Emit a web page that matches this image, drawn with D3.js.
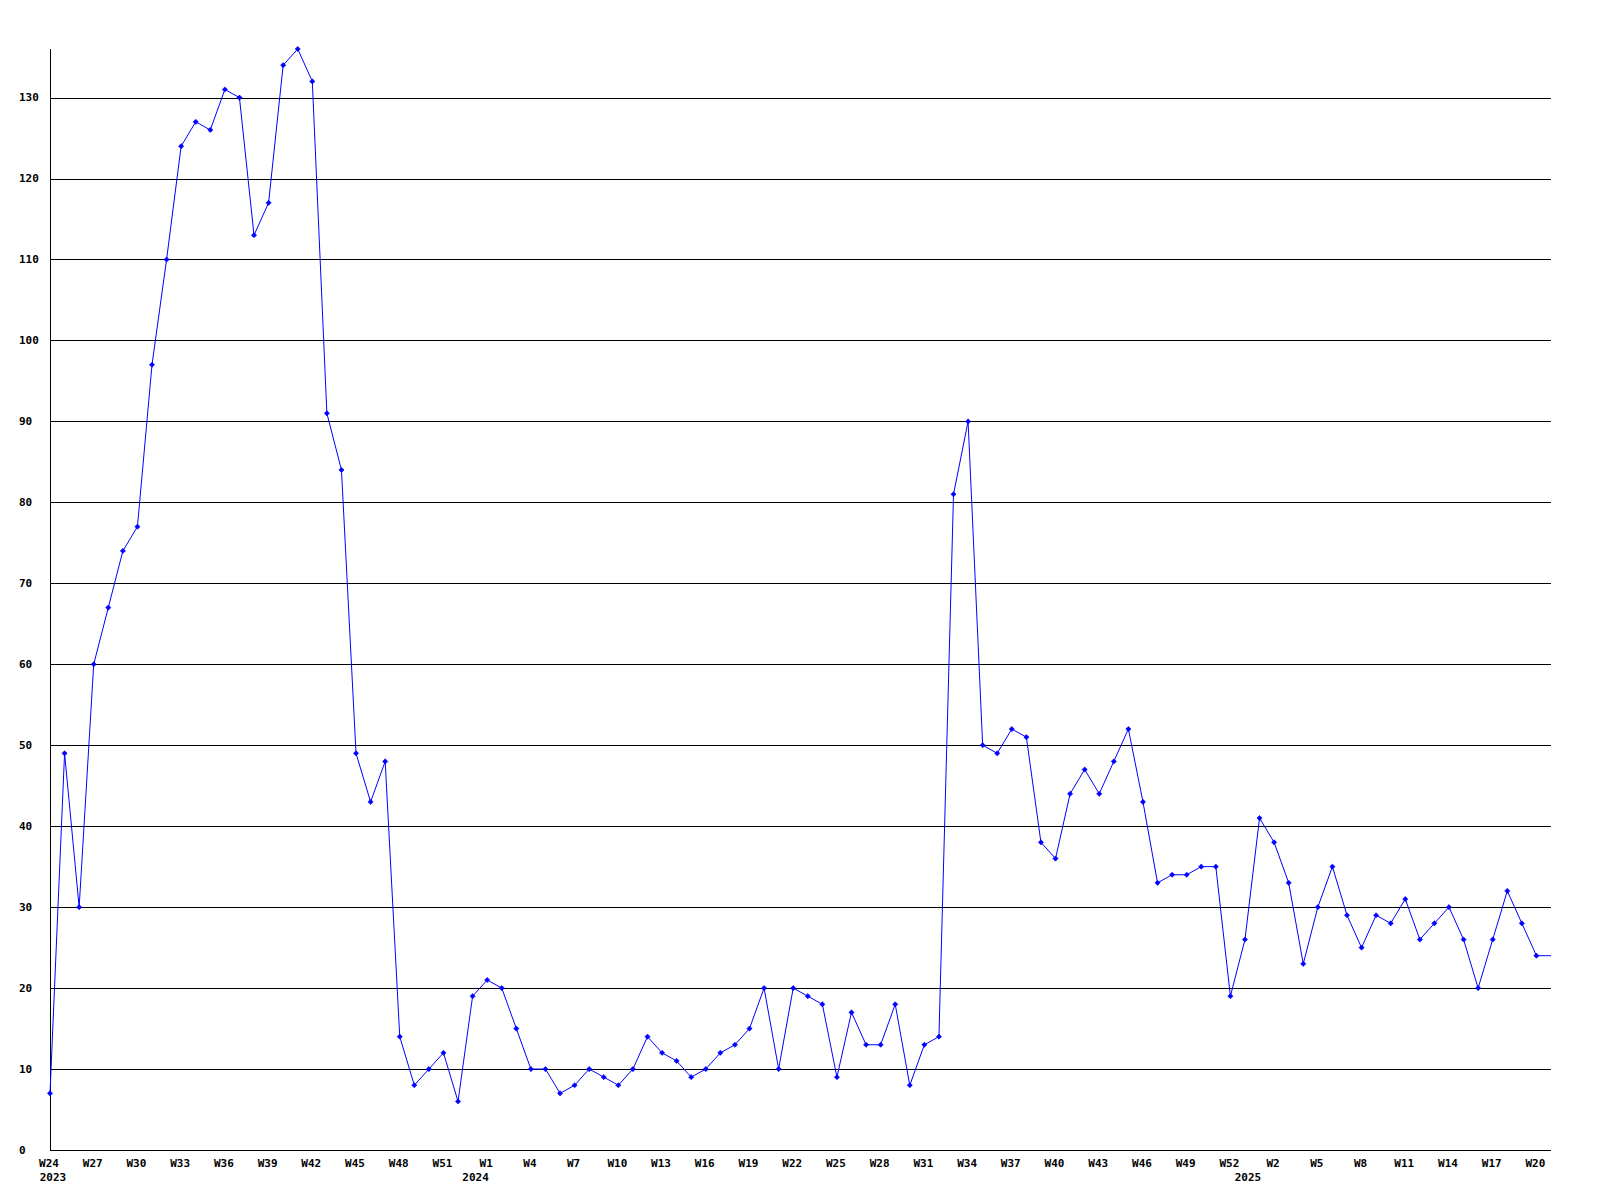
<!DOCTYPE html>
<html>
<head>
<meta charset="utf-8">
<script src="https://cdn.jsdelivr.net/npm/d3@7"></script>
<style>
  html, body { margin: 0; padding: 0; background: #ffffff; }
  svg { display: block; }
  text { font-family: "DejaVu Sans Mono", "Liberation Mono", monospace; font-weight: bold; fill: #000; }
</style>
</head>
<body>
<script>
// Weekly values, 2023 W24 onward (one per week)
const values = [
  7, 49, 30, 60, 67, 74, 77, 97, 110, 124,
  127, 126, 131, 130, 113, 117, 134, 136, 132, 91,
  84, 49, 43, 48, 14, 8, 10, 12, 6, 19,
  21, 20, 15, 10, 10, 7, 8, 10, 9, 8,
  10, 14, 12, 11, 9, 10, 12, 13, 15, 20,
  10, 20, 19, 18, 9, 17, 13, 13, 18, 8,
  13, 14, 81, 90, 50, 49, 52, 51, 38, 36,
  44, 47, 44, 48, 52, 43, 33, 34, 34, 35,
  35, 19, 26, 41, 38, 33, 23, 30, 35, 29,
  25, 29, 28, 31, 26, 28, 30, 26, 20, 26,
  32, 28, 24, 24
];
// Week tick labels, one every 3 weeks starting at the first point
const weekLabels = ["W24","W27","W30","W33","W36","W39","W42","W45","W48","W51",
  "W1","W4","W7","W10","W13","W16","W19","W22","W25","W28","W31","W34","W37",
  "W40","W43","W46","W49","W52","W2","W5","W8","W11","W14","W17","W20"];
const labelStep = 3;
// Year labels and the week index where each year starts
const yearLabels = ["2023", "2024", "2025"];
const yearIndex = [0, 29, 82];
// Y axis ticks
const yTicks = [0, 10, 20, 30, 40, 50, 60, 70, 80, 90, 100, 110, 120, 130];
const yMax = 136;

(function () {
const W = 1600, H = 1200;
const pLeft = 50, pRight = 1551, pTop = 49, pBottom = 1150;

const svg = d3.select("body").append("svg").attr("width", W).attr("height", H);

const x = d3.scaleLinear().domain([0, values.length - 1]).range([pLeft, pRight]);
const y = d3.scaleLinear().domain([0, yMax]).range([pBottom, pTop]);

// grid lines
svg.append("g").selectAll("line").data(yTicks.filter(d => d > 0)).join("line")
  .attr("x1", pLeft).attr("x2", pRight)
  .attr("y1", d => Math.round(y(d)) + 0.5).attr("y2", d => Math.round(y(d)) + 0.5)
  .attr("stroke", "#000").attr("stroke-width", 1).attr("shape-rendering", "crispEdges");

// axes lines
svg.append("line").attr("x1", pLeft + 0.5).attr("x2", pLeft + 0.5).attr("y1", pTop).attr("y2", pBottom + 0.5)
  .attr("stroke", "#000").attr("shape-rendering", "crispEdges");
svg.append("line").attr("x1", pLeft).attr("x2", pRight).attr("y1", pBottom + 0.5).attr("y2", pBottom + 0.5)
  .attr("stroke", "#000").attr("shape-rendering", "crispEdges");

// y labels
svg.append("g").selectAll("text").data(yTicks).join("text")
  .attr("x", 19).attr("y", d => y(d)).attr("dy", "0.35em")
  .attr("font-size", 11).attr("text-anchor", "start")
  .text(d => d);

// x week labels
svg.append("g").selectAll("text").data(weekLabels).join("text")
  .attr("x", (d, i) => x(i * labelStep) - 1).attr("y", 1163).attr("dy", "0.35em")
  .attr("font-size", 11).attr("text-anchor", "middle")
  .text(d => d);

// year labels
svg.append("g").selectAll("text").data(yearLabels).join("text")
  .attr("x", (d, i) => x(yearIndex[i]) + 3).attr("y", 1177).attr("dy", "0.35em")
  .attr("font-size", 11).attr("text-anchor", "middle")
  .text(d => d);

// data line
const line = d3.line().x((d, i) => x(i)).y(d => y(d));
svg.append("path").datum(values).attr("d", line)
  .attr("fill", "none").attr("stroke", "#0000ff").attr("stroke-width", 1);

// markers (all but the final, still-open week)
const r = 2.6;
svg.append("g").selectAll("path").data(values.slice(0, values.length - 1)).join("path")
  .attr("d", (d, i) => {
    const cx = x(i), cy = y(d);
    return `M${cx},${cy - r}L${cx + r},${cy}L${cx},${cy + r}L${cx - r},${cy}Z`;
  })
  .attr("fill", "#0000ff").attr("stroke", "#0000ff").attr("stroke-width", 0.6);
})();
</script>
</body>
</html>
